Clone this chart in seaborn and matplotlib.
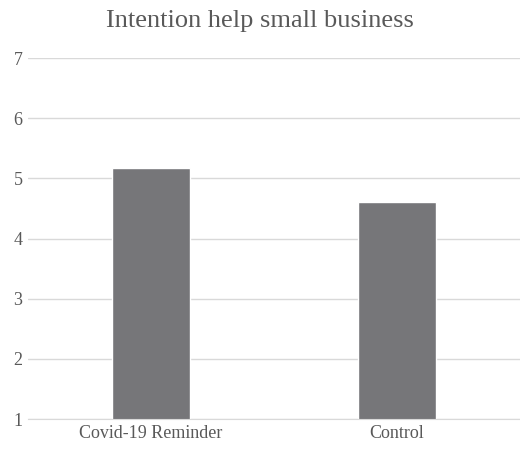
import matplotlib
matplotlib.use("Agg")
import matplotlib.pyplot as plt
import seaborn as sns
import pandas as pd

categories = ["Covid-19 Reminder", "Control"]
values = [5.18, 4.61]
yticks = [1, 2, 3, 4, 5, 6, 7]

sns.set_style("white")
plt.rcParams['font.family'] = ['Liberation Serif', 'DejaVu Serif']

fig = plt.figure(figsize=(5.2, 4.57), dpi=100)
ax = fig.add_axes([0.054, 0.083, 0.946, 0.79])
df = pd.DataFrame({"cat": categories, "val": values})
sns.barplot(data=df, x="cat", y="val", color="#767679", saturation=1, width=0.32, ax=ax, bottom=0)
ax.set_ylim(1, 7)
ax.set_yticks(yticks)
ax.set_xlim(-0.5, 1.5)
ax.yaxis.grid(True, color="#d9d9d9", linewidth=1)
ax.set_axisbelow(True)
for s in ["top", "right", "left"]:
    ax.spines[s].set_visible(False)
ax.spines["bottom"].set_color("#d9d9d9")
ax.tick_params(axis="both", length=0, labelsize=13, colors="#595959", pad=4)
ax.set_xlabel("")
ax.set_ylabel("")
fig.text(0.5, 0.955, "Intention help small business", ha="center", va="center", fontsize=19, color="#595959")
fig.savefig("out.png", dpi=100)
